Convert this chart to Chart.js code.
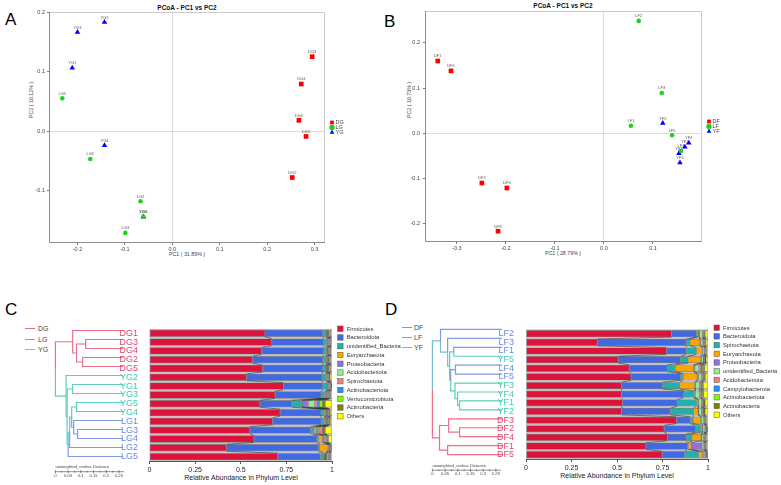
<!DOCTYPE html>
<html>
<head>
<meta charset="utf-8">
<title>PCoA and phylum abundance</title>
<script src="https://cdn.jsdelivr.net/npm/chart.js@4.4.1/dist/chart.umd.min.js"></script>
<style>
  html, body { margin: 0; background: #fff; }
  #page { position: relative; width: 781px; height: 485px; overflow: hidden; font-family: "Liberation Sans", Arial, sans-serif; }
  #page canvas { position: absolute; }
  .txt { position: absolute; white-space: nowrap; color: #333; line-height: 1; }
  .panel { font-size: 17px; color: #000; }
  .ptitle { font-size: 6.5px; font-weight: bold; color: #111; transform: translateX(-50%); }
  .xlab { font-size: 5.3px; color: #444; transform: translateX(-50%); }
  .ylab { font-size: 5.3px; color: #444; transform: translate(-50%, -50%) rotate(-90deg); }
  .blab { font-size: 7px; color: #222; transform: translateX(-50%); }
  .tl { position: absolute; height: 1.3px; width: 10px; }
  .tleg { font-size: 7px; color: #444; }
</style>
</head>
<body>
<div id="page">
  <div class="txt panel" style="left:5px;top:11px">A</div>
  <div class="txt panel" style="left:384px;top:13px">B</div>
  <div class="txt panel" style="left:5px;top:301px">C</div>
  <div class="txt panel" style="left:385px;top:301px">D</div>

  <div class="txt ptitle" style="left:187px;top:5px">PCoA - PC1 vs PC2</div>
  <div class="txt ptitle" style="left:563px;top:3px">PCoA - PC1 vs PC2</div>
  <div class="txt xlab" style="left:187px;top:251.5px">PC1 ( 31.89% )</div>
  <div class="txt xlab" style="left:563px;top:251px">PC1 ( 28.79% )</div>
  <div class="txt ylab" style="left:32px;top:100px">PC2 ( 10.12% )</div>
  <div class="txt ylab" style="left:410px;top:100px">PC2 ( 10.73% )</div>

  <div class="txt blab" style="left:241px;top:474px">Relative Abundance in Phylum Level</div>
  <div class="txt blab" style="left:617px;top:472px">Relative Abundance in Phylum Level</div>

  <div class="tl" style="left:25px;top:327.5px;background:#ee6d87"></div>
  <div class="txt tleg" style="left:38px;top:324.5px">DG</div>
  <div class="tl" style="left:25px;top:338.5px;background:#7f9ae8"></div>
  <div class="txt tleg" style="left:38px;top:335.5px">LG</div>
  <div class="tl" style="left:25px;top:348.5px;background:#5ecdbd"></div>
  <div class="txt tleg" style="left:38px;top:345.5px">YG</div>

  <div class="tl" style="left:402px;top:326.5px;background:#ee6d87"></div>
  <div class="txt tleg" style="left:414px;top:323.5px">DF</div>
  <div class="tl" style="left:402px;top:336.5px;background:#7f9ae8"></div>
  <div class="txt tleg" style="left:414px;top:333.5px">LF</div>
  <div class="tl" style="left:402px;top:346.5px;background:#5ecdbd"></div>
  <div class="txt tleg" style="left:414px;top:343.5px">YF</div>

  <canvas id="pcoaA" width="390" height="262" style="left:0;top:0"></canvas>
  <canvas id="pcoaB" width="391" height="262" style="left:390px;top:0"></canvas>
  <canvas id="treeC" width="80" height="165" style="left:50px;top:320px"></canvas>
  <canvas id="barsC" width="310" height="165" style="left:100px;top:320px"></canvas>
  <canvas id="treeD" width="80" height="165" style="left:425px;top:320px"></canvas>
  <canvas id="barsD" width="305" height="165" style="left:476px;top:320px"></canvas>
</div>

<script>
// ---------------- Panel A: PCoA of the G samples ----------------
const aDgNames = ['DG1', 'DG2', 'DG3', 'DG4', 'DG5'];
const aDgX = [0.267, 0.253, 0.295, 0.272, 0.282];
const aDgY = [0.018, -0.078, 0.125, 0.079, -0.009];
const aLgNames = ['LG1', 'LG2', 'LG3', 'LG4', 'LG5'];
const aLgX = [-0.173, -0.067, -0.099, -0.061, -0.232];
const aLgY = [-0.047, -0.118, -0.171, -0.144, 0.055];
const aYgNames = ['YG1', 'YG2', 'YG3', 'YG4', 'YG5'];
const aYgX = [-0.211, -0.143, -0.200, -0.143, -0.061];
const aYgY = [0.106, 0.183, 0.166, -0.024, -0.144];
const aXTicks = [-0.2, -0.1, 0, 0.1, 0.2, 0.3];
const aYTicks = [-0.1, 0, 0.1, 0.2];

// ---------------- Panel B: PCoA of the F samples ----------------
const bDfNames = ['DF1', 'DF2', 'DF3', 'DF4', 'DF5'];
const bDfX = [-0.339, -0.249, -0.216, -0.198, -0.312];
const bDfY = [0.160, -0.111, -0.218, -0.122, 0.138];
const bLfNames = ['LF1', 'LF2', 'LF3', 'LF4', 'LF5'];
const bLfX = [0.055, 0.071, 0.118, 0.157, 0.139];
const bLfY = [0.016, 0.249, 0.089, -0.040, -0.005];
const bYfNames = ['YF1', 'YF2', 'YF3', 'YF4', 'YF5'];
const bYfX = [0.153, 0.165, 0.155, 0.173, 0.120];
const bYfY = [-0.045, -0.031, -0.066, -0.022, 0.022];
const bXTicks = [-0.3, -0.2, -0.1, 0, 0.1];
const bYTicks = [-0.2, -0.1, 0, 0.1, 0.2];

// ---------------- Panel C: tree + phylum bars (G) ----------------
const cRows = ['DG1', 'DG3', 'DG4', 'DG2', 'DG5', 'YG2', 'YG1', 'YG3', 'YG5', 'YG4', 'LG1', 'LG3', 'LG4', 'LG2', 'LG5'];
const cPhyla = ['Firmicutes', 'Bacteroidota', 'unidentified_Bacteria', 'Euryarchaeota', 'Proteobacteria', 'Acidobacteriota',
  'Spirochaetota', 'Actinobacteriota', 'Verrucomicrobiota', 'Actinobacteria', 'Others'];
const cFirmicutes = [0.633, 0.670, 0.615, 0.565, 0.620, 0.532, 0.734, 0.688, 0.605, 0.716, 0.675, 0.550, 0.572, 0.422, 0.703];
const cBacteroidota = [0.317, 0.284, 0.340, 0.385, 0.330, 0.413, 0.216, 0.252, 0.175, 0.224, 0.265, 0.334, 0.345, 0.505, 0.233];
const cUnidentified = [0.018, 0.016, 0.013, 0.016, 0.018, 0.020, 0.025, 0.020, 0.055, 0.018, 0.018, 0.018, 0.010, 0.005, 0.020];
const cEuryarchaeota = [0.005, 0.005, 0.006, 0.006, 0.005, 0.005, 0.004, 0.006, 0.005, 0.006, 0.006, 0.012, 0.020, 0.045, 0.006];
const cProteobacteria = [0.004, 0.004, 0.004, 0.004, 0.004, 0.004, 0.003, 0.005, 0.030, 0.005, 0.005, 0.010, 0.006, 0.003, 0.005];
const cAcidobacteriota = [0.003, 0.003, 0.003, 0.003, 0.003, 0.003, 0.003, 0.004, 0.035, 0.004, 0.004, 0.008, 0.005, 0.003, 0.004];
const cSpirochaetota = [0.004, 0.004, 0.004, 0.004, 0.004, 0.004, 0.003, 0.006, 0.015, 0.006, 0.006, 0.015, 0.010, 0.004, 0.010];
const cActinobacteriota = [0.002, 0.002, 0.002, 0.002, 0.002, 0.002, 0.002, 0.003, 0.012, 0.003, 0.003, 0.004, 0.003, 0.002, 0.003];
const cVerrucomicrobiota = [0.002, 0.002, 0.002, 0.002, 0.002, 0.002, 0.002, 0.003, 0.015, 0.003, 0.003, 0.004, 0.003, 0.002, 0.003];
const cActinobacteria = [0.003, 0.003, 0.003, 0.004, 0.003, 0.004, 0.003, 0.005, 0.016, 0.005, 0.005, 0.008, 0.006, 0.003, 0.005];
const cOthers = [0.009, 0.007, 0.008, 0.009, 0.009, 0.011, 0.005, 0.008, 0.037, 0.010, 0.010, 0.037, 0.020, 0.006, 0.008];
// merges: [child, child, height]; merge k becomes node 'n' + k
const cMerges = [
  ['DG3', 'DG4', 0.147], ['DG2', 'DG5', 0.159], ['n0', 'n1', 0.183], ['DG1', 'n2', 0.198],
  ['YG1', 'YG3', 0.198], ['YG5', 'YG4', 0.183], ['LG3', 'LG4', 0.179], ['LG1', 'n6', 0.194],
  ['n5', 'n7', 0.202], ['n8', 'LG2', 0.210], ['n9', 'LG5', 0.216], ['n4', 'n10', 0.220],
  ['YG2', 'n11', 0.224], ['n3', 'n12', 0.266]
];

// ---------------- Panel D: tree + phylum bars (F) ----------------
const dRows = ['LF2', 'LF3', 'LF1', 'YF5', 'LF4', 'LF5', 'YF3', 'YF4', 'YF1', 'YF2', 'DF3', 'DF2', 'DF4', 'DF1', 'DF5'];
const dPhyla = ['Firmicutes', 'Bacteroidota', 'Spirochaetota', 'Euryarchaeota', 'Proteobacteria', 'unidentified_Bacteria',
  'Acidobacteriota', 'Campylobacterota', 'Actinobacteriota', 'Actinobacteria', 'Others'];
const dFirmicutes = [0.800, 0.392, 0.772, 0.507, 0.567, 0.577, 0.525, 0.525, 0.530, 0.525, 0.827, 0.759, 0.777, 0.659, 0.748];
const dBacteroidota = [0.136, 0.489, 0.109, 0.343, 0.210, 0.273, 0.225, 0.342, 0.300, 0.270, 0.076, 0.173, 0.104, 0.228, 0.124];
const dSpirochaetota = [0.008, 0.020, 0.055, 0.040, 0.043, 0.013, 0.095, 0.053, 0.106, 0.125, 0.015, 0.028, 0.031, 0.004, 0.077];
const dEuryarchaeota = [0.006, 0.054, 0.033, 0.070, 0.100, 0.077, 0.082, 0.006, 0.008, 0.025, 0.042, 0.008, 0.050, 0.016, 0.021];
const dProteobacteria = [0.004, 0.004, 0.003, 0.004, 0.008, 0.008, 0.005, 0.004, 0.004, 0.004, 0.004, 0.004, 0.004, 0.060, 0.004];
const dUnidentified = [0.016, 0.012, 0.008, 0.010, 0.022, 0.015, 0.020, 0.022, 0.016, 0.015, 0.012, 0.010, 0.010, 0.010, 0.008];
const dAcidobacteriota = [0.004, 0.005, 0.003, 0.004, 0.012, 0.008, 0.008, 0.008, 0.006, 0.006, 0.004, 0.004, 0.004, 0.004, 0.004];
const dCampylobacterota = [0.003, 0.003, 0.002, 0.003, 0.006, 0.004, 0.004, 0.004, 0.004, 0.004, 0.003, 0.002, 0.003, 0.003, 0.002];
const dActinobacteriota = [0.003, 0.003, 0.002, 0.003, 0.006, 0.004, 0.004, 0.004, 0.004, 0.004, 0.003, 0.002, 0.003, 0.003, 0.002];
const dActinobacteria = [0.004, 0.006, 0.004, 0.005, 0.008, 0.006, 0.006, 0.008, 0.006, 0.006, 0.004, 0.004, 0.004, 0.004, 0.004];
const dOthers = [0.016, 0.012, 0.009, 0.011, 0.018, 0.015, 0.026, 0.024, 0.016, 0.016, 0.010, 0.006, 0.010, 0.009, 0.006];
const dMerges = [
  ['LF1', 'YF5', 0.190], ['LF4', 'LF5', 0.183], ['YF1', 'YF2', 0.167], ['YF4', 'n2', 0.175],
  ['YF3', 'n3', 0.185], ['n1', 'n4', 0.202], ['n0', 'n5', 0.206], ['LF3', 'n6', 0.214],
  ['LF2', 'n7', 0.242], ['DF2', 'DF4', 0.167], ['DF3', 'n9', 0.210], ['DF1', 'DF5', 0.214],
  ['n10', 'n11', 0.246], ['n8', 'n12', 0.274]
];

const barTicks = [0, 0.25, 0.5, 0.75, 1];
const rulerTicks = [0, 0.05, 0.1, 0.15, 0.2, 0.25];

const FONT = '"Liberation Sans", Arial, sans-serif';
const phylumColors = ['#dc143c', '#4169e1', '#20b2aa', '#ffa500', '#9370db', '#90ee90',
  '#f08080', '#1e90ff', '#7cfc00', '#808000', '#ffff00'];

// colour of tree branches / leaf labels by sample group
function branchColor(name) {
  const g = name.charAt(0);
  if (g === 'D') return '#ee6d87';
  if (g === 'L') return '#7f9ae8';
  return '#5ecdbd';
}
function labelColor(name) {
  const g = name.charAt(0);
  if (g === 'D') return '#e6446a';
  if (g === 'L') return '#6a87e6';
  return '#3fc7b3';
}

/**
 * Frame, zero lines, sample names and the small legend of a PCoA plot
 */
const pcoaDecor = {
  id: 'pcoaDecor',
  beforeDatasetsDraw(chart) {
    const { ctx, chartArea: a } = chart;
    ctx.save();
    ctx.lineWidth = 1;
    ctx.strokeStyle = '#cbcbcb';
    ctx.beginPath();
    ctx.moveTo(a.left, a.top + 0.5);
    ctx.lineTo(a.right - 0.5, a.top + 0.5);
    ctx.lineTo(a.right - 0.5, a.bottom);
    ctx.stroke();
    ctx.strokeStyle = '#8c8c8c';
    ctx.beginPath();
    ctx.moveTo(a.left + 0.5, a.top);
    ctx.lineTo(a.left + 0.5, a.bottom - 0.5);
    ctx.lineTo(a.right, a.bottom - 0.5);
    ctx.stroke();
    ctx.restore();
  },
  afterDatasetsDraw(chart) {
    const { ctx, chartArea: a } = chart;
    ctx.save();
    ctx.font = '4px ' + FONT;
    ctx.fillStyle = '#555';
    ctx.textAlign = 'center';
    ctx.textBaseline = 'alphabetic';
    chart.data.datasets.forEach((ds, di) => {
      chart.getDatasetMeta(di).data.forEach((pt, i) => {
        ctx.fillText(ds.names[i], pt.x, pt.y - 3.6);
      });
    });

    // legend to the right of the plot
    const midY = (a.top + a.bottom) / 2;
    ctx.font = '5.5px ' + FONT;
    ctx.textAlign = 'left';
    ctx.textBaseline = 'middle';
    chart.data.datasets.forEach((ds, di) => {
      const y = midY + (di - 1) * 5;
      ctx.fillStyle = ds.backgroundColor;
      Chart.helpers.drawPoint(ctx, { pointStyle: ds.pointStyle, radius: 2.7, rotation: 0, borderWidth: 0 }, a.right + 7, y);
      ctx.fillStyle = '#444';
      ctx.fillText(ds.label, a.right + 10.5, y + 0.3);
    });
    ctx.restore();
  }
};

function pcoaChart(canvasId, groups, xRange, yRange, xTicks, yTicks, box) {
  const grid = {
    color: c => (c.tick && c.tick.value === 0) ? '#dcdcdc' : 'rgba(0,0,0,0)',
    tickColor: '#777',
    tickLength: 2,
    lineWidth: 1
  };
  const tickFont = { size: 5.5, family: FONT };
  return new Chart(document.getElementById(canvasId), {
    type: 'scatter',
    data: {
      datasets: groups.map(g => ({
        label: g.label,
        names: g.names,
        data: g.xs.map((v, i) => ({ x: v, y: g.ys[i] })),
        pointStyle: g.style,
        pointRadius: g.size,
        pointHoverRadius: g.size,
        backgroundColor: g.color,
        borderColor: g.color,
        borderWidth: 0
      }))
    },
    options: {
      responsive: false,
      animation: false,
      devicePixelRatio: 1,
      layout: { padding: box.pad },
      plugins: { legend: { display: false }, tooltip: { enabled: false } },
      scales: {
        x: {
          type: 'linear', min: xRange[0], max: xRange[1],
          afterBuildTicks: s => { s.ticks = xTicks.map(v => ({ value: v })); },
          afterFit: s => { s.height = box.xh; },
          grid: grid, border: { display: false },
          ticks: { font: tickFont, color: '#444', padding: 1, maxRotation: 0, callback: v => v.toFixed(1) }
        },
        y: {
          type: 'linear', min: yRange[0], max: yRange[1],
          afterBuildTicks: s => { s.ticks = yTicks.map(v => ({ value: v })); },
          afterFit: s => { s.width = box.yw; },
          grid: grid, border: { display: false },
          ticks: { font: tickFont, color: '#444', padding: box.ypad, callback: v => v.toFixed(1) }
        }
      }
    },
    plugins: [pcoaDecor]
  });
}

/**
 * Grey backdrop, links between neighbouring bars and the phylum legend
 */
const barDecor = {
  id: 'barDecor',
  beforeDatasetsDraw(chart) {
    const { ctx, chartArea: a } = chart;
    ctx.save();
    ctx.fillStyle = '#c2c2c2';
    ctx.fillRect(a.left, a.top, a.width, a.height);
    ctx.restore();
  },
  afterDatasetsDraw(chart, args, opts) {
    const { ctx } = chart;
    const sets = chart.data.datasets;
    ctx.save();
    ctx.strokeStyle = '#303030';
    ctx.lineWidth = 0.6;
    for (let k = 0; k < sets.length - 1; k++) {
      const bars = chart.getDatasetMeta(k).data;
      ctx.beginPath();
      for (let i = 0; i < bars.length - 1; i++) {
        const p = bars[i], q = bars[i + 1];
        ctx.moveTo(p.x, p.y + p.height / 2);
        ctx.lineTo(q.x, q.y - q.height / 2);
      }
      ctx.stroke();
    }

    ctx.font = '5.8px ' + FONT;
    ctx.textAlign = 'left';
    ctx.textBaseline = 'middle';
    ctx.lineWidth = 0.5;
    sets.forEach((ds, i) => {
      const y = opts.y + i * opts.step;
      ctx.fillStyle = ds.backgroundColor;
      ctx.fillRect(opts.x, y - 2.7, 5.4, 5.4);
      ctx.strokeStyle = '#555';
      ctx.strokeRect(opts.x, y - 2.7, 5.4, 5.4);
      ctx.fillStyle = '#333';
      ctx.fillText(ds.label, opts.x + 9, y + 0.3);
    });
    ctx.restore();
  }
};

function barChart(canvasId, rows, phyla, values, box) {
  return new Chart(document.getElementById(canvasId), {
    type: 'bar',
    data: {
      labels: rows,
      datasets: phyla.map((p, i) => ({
        label: p,
        data: values[i],
        backgroundColor: phylumColors[i],
        borderColor: '#333',
        borderWidth: 0.4,
        borderSkipped: false,
        barPercentage: 0.78,
        categoryPercentage: 1
      }))
    },
    options: {
      indexAxis: 'y',
      responsive: false,
      animation: false,
      devicePixelRatio: 1,
      layout: { padding: box.pad },
      plugins: {
        legend: { display: false },
        tooltip: { enabled: false },
        barDecor: box.legend
      },
      scales: {
        x: {
          stacked: true, min: 0, max: 1,
          afterBuildTicks: s => { s.ticks = barTicks.map(v => ({ value: v })); },
          afterFit: s => { s.height = box.xh; },
          grid: { drawOnChartArea: false, tickLength: 3, tickColor: '#555' },
          border: { display: true, color: '#555', width: 1 },
          ticks: { font: { size: 7, family: FONT }, color: '#222', padding: 2, maxRotation: 0, callback: v => String(v) }
        },
        y: {
          stacked: true,
          afterFit: s => { s.width = box.yw; },
          grid: { display: false },
          border: { display: false },
          ticks: {
            font: { size: 9, family: FONT },
            color: c => labelColor(rows[c.index]),
            padding: box.ypad,
            autoSkip: false
          }
        }
      }
    },
    plugins: [barDecor]
  });
}

/**
 * Scale bar drawn under a dendrogram, starting at the root
 */
const rulerPlugin = {
  id: 'ruler',
  afterDraw(chart, args, o) {
    const { ctx } = chart;
    const xs = chart.scales.x;
    const ppu = xs.getPixelForValue(0) - xs.getPixelForValue(1);
    const x0 = xs.getPixelForValue(o.root);
    ctx.save();
    ctx.fillStyle = '#444';
    ctx.strokeStyle = '#444';
    ctx.font = '4.2px ' + FONT;
    ctx.textBaseline = 'alphabetic';
    ctx.textAlign = 'left';
    ctx.fillText('unweighted_unifrac Distance', x0, o.titleY);
    ctx.lineWidth = 0.6;
    ctx.beginPath();
    ctx.moveTo(x0, o.lineY);
    ctx.lineTo(x0 + 0.27 * ppu, o.lineY);
    for (let k = 0; k <= 10; k++) {
      const x = x0 + k * 0.025 * ppu;
      const len = k % 2 === 0 ? 1.6 : 0.9;
      ctx.moveTo(x, o.lineY - len);
      ctx.lineTo(x, o.lineY + len);
    }
    ctx.stroke();
    ctx.textAlign = 'center';
    ctx.textBaseline = 'top';
    rulerTicks.forEach(v => ctx.fillText(String(v), x0 + v * ppu, o.lineY + 1.8));
    ctx.restore();
  }
};

function treeDatasets(leaves, merges, mixColor) {
  const nodes = {};
  leaves.forEach((n, i) => { nodes[n] = { h: 0, y: i, color: branchColor(n) }; });
  const sets = [];
  merges.forEach((m, k) => {
    const a = nodes[m[0]], b = nodes[m[1]], h = m[2];
    const y = (a.y + b.y) / 2;
    [a, b].forEach(c => sets.push({
      data: [{ x: c.h, y: c.y }, { x: h, y: c.y }, { x: h, y: y }],
      showLine: true,
      fill: false,
      borderColor: c.color,
      borderWidth: 1.2,
      pointRadius: 0,
      tension: 0
    }));
    nodes['n' + k] = { h: h, y: y, color: a.color === b.color ? a.color : mixColor };
  });
  return sets;
}

function treeChart(canvasId, leaves, merges, box) {
  return new Chart(document.getElementById(canvasId), {
    type: 'scatter',
    data: { datasets: treeDatasets(leaves, merges, box.mix) },
    options: {
      responsive: false,
      animation: false,
      devicePixelRatio: 1,
      layout: { padding: box.pad },
      plugins: { legend: { display: false }, tooltip: { enabled: false }, ruler: box.ruler },
      scales: {
        x: { type: 'linear', reverse: true, min: 0, max: box.xmax, display: false },
        y: { type: 'linear', reverse: true, min: -0.5, max: leaves.length - 0.5, display: false }
      }
    },
    plugins: [rulerPlugin]
  });
}

document.addEventListener('DOMContentLoaded', function() {
  pcoaChart('pcoaA', [
    { label: 'DG', names: aDgNames, xs: aDgX, ys: aDgY, style: 'rect', size: 3.3, color: '#ff0000' },
    { label: 'LG', names: aLgNames, xs: aLgX, ys: aLgY, style: 'circle', size: 2.3, color: '#1fcf1f' },
    { label: 'YG', names: aYgNames, xs: aYgX, ys: aYgY, style: 'triangle', size: 3.2, color: '#0000ff' }
  ], [-0.26, 0.322], [-0.188, 0.2], aXTicks, aYTicks,
  { pad: { left: 0, top: 12, right: 65, bottom: 0 }, yw: 49, xh: 19, ypad: 2 });

  pcoaChart('pcoaB', [
    { label: 'DF', names: bDfNames, xs: bDfX, ys: bDfY, style: 'rect', size: 3.3, color: '#ff0000' },
    { label: 'LF', names: bLfNames, xs: bLfX, ys: bLfY, style: 'circle', size: 2.3, color: '#1fcf1f' },
    { label: 'YF', names: bYfNames, xs: bYfX, ys: bYfY, style: 'triangle', size: 3.2, color: '#0000ff' }
  ], [-0.365, 0.2], [-0.242, 0.271], bXTicks, bYTicks,
  { pad: { left: 0, top: 11, right: 79, bottom: 0 }, yw: 35, xh: 20, ypad: 3 });

  treeChart('treeC', cRows, cMerges, {
    pad: { left: 0, top: 6, right: 7, bottom: 24 }, xmax: 73 / 254, mix: '#5ecdbd',
    ruler: { root: 0.266, titleY: 148, lineY: 151.7, labelY: 154 }
  });
  treeChart('treeD', dRows, dMerges, {
    pad: { left: 0, top: 5, right: 3, bottom: 26 }, xmax: 77 / 254, mix: '#79bcd6',
    ruler: { root: 0.274, titleY: 146.5, lineY: 150.2, labelY: 153 }
  });

  barChart('barsC', cRows, cPhyla, [cFirmicutes, cBacteroidota, cUnidentified, cEuryarchaeota, cProteobacteria,
    cAcidobacteriota, cSpirochaetota, cActinobacteriota, cVerrucomicrobiota, cActinobacteria, cOthers],
  { pad: { left: 0, top: 6, right: 78, bottom: 0 }, yw: 49.5, xh: 24, ypad: 3.5,
    legend: { x: 237.7, y: 8.7, step: 8.76 } });

  barChart('barsD', dRows, dPhyla, [dFirmicutes, dBacteroidota, dSpirochaetota, dEuryarchaeota, dProteobacteria,
    dUnidentified, dAcidobacteriota, dCampylobacterota, dActinobacteriota, dActinobacteria, dOthers],
  { pad: { left: 0, top: 5, right: 73, bottom: 0 }, yw: 50, xh: 26, ypad: 4,
    legend: { x: 238, y: 7.7, step: 8.7 } });
});
</script>
</body>
</html>
